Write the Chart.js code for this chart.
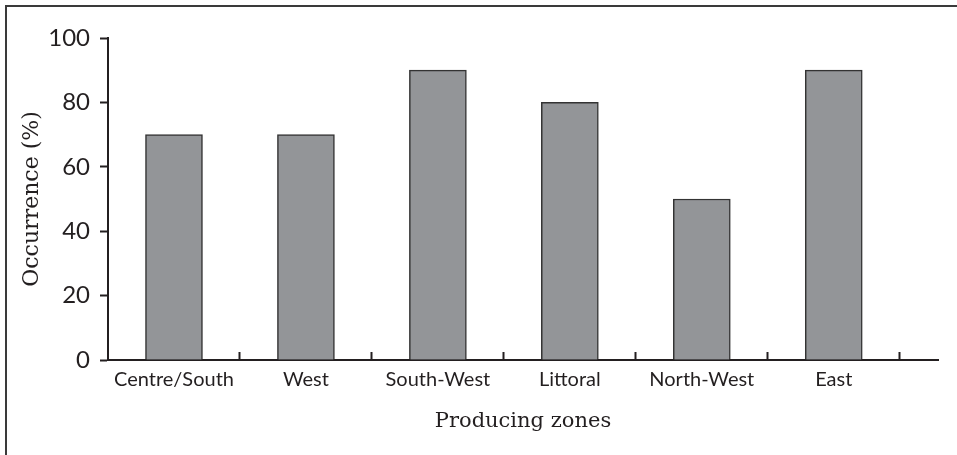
<!DOCTYPE html>
<html>
<head>
<meta charset="utf-8">
<script src="https://cdn.jsdelivr.net/npm/chart.js@4/dist/chart.umd.min.js"></script>
<style>
    body { margin: 0; background: #fff; }
    #wrap { position: relative; width: 957px; height: 455px; overflow: hidden; }
    #frame {
        position: absolute; left: 5px; top: 5px; width: 1000px; height: 500px;
        border-top: 2px solid #3a3a3a; border-left: 2px solid #3a3a3a;
        pointer-events: none;
    }
</style>
</head>
<body>
<div id="wrap">
    <canvas id="zonesChart" width="957" height="455"></canvas>
    <div id="frame"></div>
</div>
<script>
// Datos del gráfico
const zones = ['Centre/South', 'West', 'South-West', 'Littoral', 'North-West', 'East'];
const occurrence = [70, 70, 90, 80, 50, 90];
const yTicks = [0, 20, 40, 60, 80, 100];

const ink = '#231f20';

// Cada zona ocupa una unidad del eje x; la barra va en el centro
const points = zones.map((z, i) => ({ x: i + 0.5, y: occurrence[i] }));

// Marca solo los separadores enteros entre zonas
function separatorColor(c) {
    const v = c.tick ? c.tick.value : null;
    return (v !== null && Number.isInteger(v) && v > 0) ? ink : 'rgba(0,0,0,0)';
}

const ctx = document.getElementById('zonesChart').getContext('2d');

new Chart(ctx, {
    type: 'bar',
    data: {
        datasets: [{
            data: points,
            backgroundColor: '#939598',
            borderColor: '#333333',
            borderWidth: 1.5,
            barThickness: 57
        }]
    },
    options: {
        responsive: false,
        animation: false,
        events: [],
        layout: {
            padding: { top: 38, right: 19, left: 12, bottom: 0 }
        },
        plugins: {
            legend: { display: false },
            tooltip: { enabled: false }
        },
        scales: {
            x: {
                type: 'linear',
                min: 0,
                max: 6.29,
                offset: false,
                afterFit: scale => { scale.height = 95; },
                border: { display: true, color: ink, width: 2 },
                grid: {
                    offset: false,
                    drawOnChartArea: false,
                    drawTicks: true,
                    tickLength: -8,
                    tickWidth: 2,
                    tickColor: separatorColor
                },
                ticks: {
                    stepSize: 0.5,
                    includeBounds: false,
                    autoSkip: false,
                    maxRotation: 0,
                    padding: 16,
                    color: ink,
                    font: { family: 'Lato', size: 20 },
                    callback: value => {
                        const i = value - 0.5;
                        return Number.isInteger(i) && zones[i] ? zones[i] : '';
                    }
                },
                title: {
                    display: true,
                    text: 'Producing zones',
                    color: ink,
                    font: { family: 'DejaVu Serif', size: 21 },
                    padding: { top: 21, bottom: 21 }
                }
            },
            y: {
                min: 0,
                max: 100,
                afterFit: scale => { scale.width = 96; },
                afterBuildTicks: scale => { scale.ticks = yTicks.map(v => ({ value: v })); },
                border: { display: true, color: ink, width: 2 },
                grid: {
                    drawOnChartArea: false,
                    tickLength: 8,
                    tickWidth: 2,
                    tickColor: ink
                },
                ticks: {
                    padding: 10,
                    color: ink,
                    font: { family: 'Lato', size: 24 }
                },
                title: {
                    display: true,
                    text: 'Occurrence (%)',
                    color: ink,
                    font: { family: 'DejaVu Serif', size: 22 },
                    padding: { top: 7, bottom: 7 }
                }
            }
        }
    }
});
</script>
</body>
</html>
